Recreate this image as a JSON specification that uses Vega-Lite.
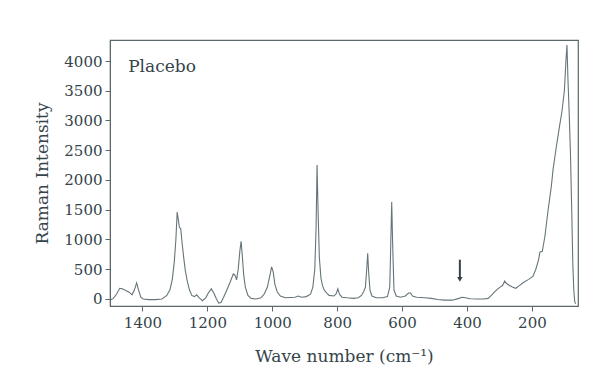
{
  "$schema": "https://vega.github.io/schema/vega-lite/v6.json",
  "autosize": {"type": "none"},
  "width": 468,
  "height": 266,
  "padding": {"left": 110, "top": 40, "right": 19, "bottom": 81},
  "background": "#ffffff",
  "config": {
    "font": "DejaVu Serif",
    "view": {"stroke": "#5a686c", "strokeWidth": 1.2},
    "axis": {
      "grid": false,
      "domainColor": "#5a686c",
      "tickColor": "#5a686c",
      "labelColor": "#34444a",
      "titleColor": "#34444a",
      "labelFont": "DejaVu Serif",
      "titleFont": "DejaVu Serif",
      "labelFontSize": 15,
      "titleFontSize": 17,
      "titleFontWeight": "normal",
      "tickSize": 5
    }
  },
  "datasets": {
    "spectrum": [
      {"wn": 1500, "I": -20}, {"wn": 1490, "I": 10}, {"wn": 1480, "I": 80}, {"wn": 1470, "I": 180},
      {"wn": 1462, "I": 170}, {"wn": 1450, "I": 140}, {"wn": 1440, "I": 110}, {"wn": 1432, "I": 70},
      {"wn": 1425, "I": 150}, {"wn": 1418, "I": 270}, {"wn": 1412, "I": 150}, {"wn": 1405, "I": 30},
      {"wn": 1398, "I": 0}, {"wn": 1380, "I": -10}, {"wn": 1360, "I": -10}, {"wn": 1340, "I": 0},
      {"wn": 1325, "I": 60}, {"wn": 1315, "I": 160}, {"wn": 1308, "I": 330}, {"wn": 1302, "I": 620},
      {"wn": 1297, "I": 1000}, {"wn": 1293, "I": 1460}, {"wn": 1290, "I": 1350}, {"wn": 1286, "I": 1200},
      {"wn": 1282, "I": 1180}, {"wn": 1278, "I": 950}, {"wn": 1273, "I": 700}, {"wn": 1268, "I": 480},
      {"wn": 1262, "I": 300}, {"wn": 1255, "I": 150}, {"wn": 1248, "I": 60}, {"wn": 1240, "I": 40},
      {"wn": 1233, "I": 70}, {"wn": 1225, "I": 20}, {"wn": 1215, "I": -30}, {"wn": 1205, "I": 20},
      {"wn": 1197, "I": 100}, {"wn": 1188, "I": 170}, {"wn": 1180, "I": 100}, {"wn": 1172, "I": 0},
      {"wn": 1165, "I": -70}, {"wn": 1158, "I": -60}, {"wn": 1150, "I": 30}, {"wn": 1140, "I": 150},
      {"wn": 1130, "I": 280}, {"wn": 1120, "I": 420}, {"wn": 1115, "I": 400}, {"wn": 1110, "I": 320},
      {"wn": 1105, "I": 500}, {"wn": 1100, "I": 800}, {"wn": 1096, "I": 970}, {"wn": 1092, "I": 700},
      {"wn": 1088, "I": 400}, {"wn": 1083, "I": 200}, {"wn": 1075, "I": 60}, {"wn": 1065, "I": 10},
      {"wn": 1050, "I": 0}, {"wn": 1035, "I": 20}, {"wn": 1025, "I": 80}, {"wn": 1015, "I": 200},
      {"wn": 1008, "I": 380}, {"wn": 1002, "I": 540}, {"wn": 997, "I": 450}, {"wn": 992, "I": 250},
      {"wn": 985, "I": 120}, {"wn": 975, "I": 50}, {"wn": 960, "I": 20}, {"wn": 945, "I": 25},
      {"wn": 930, "I": 30}, {"wn": 920, "I": 50}, {"wn": 910, "I": 30}, {"wn": 895, "I": 40},
      {"wn": 882, "I": 80}, {"wn": 875, "I": 200}, {"wn": 869, "I": 500}, {"wn": 865, "I": 1200},
      {"wn": 862, "I": 2250}, {"wn": 859, "I": 1500}, {"wn": 855, "I": 700}, {"wn": 850, "I": 350},
      {"wn": 845, "I": 220}, {"wn": 840, "I": 150}, {"wn": 832, "I": 100}, {"wn": 825, "I": 60},
      {"wn": 810, "I": 50}, {"wn": 803, "I": 90}, {"wn": 798, "I": 170}, {"wn": 793, "I": 80},
      {"wn": 785, "I": 30}, {"wn": 770, "I": 20}, {"wn": 750, "I": 10}, {"wn": 735, "I": 20},
      {"wn": 725, "I": 60}, {"wn": 718, "I": 130}, {"wn": 713, "I": 200}, {"wn": 709, "I": 500},
      {"wn": 706, "I": 770}, {"wn": 703, "I": 450}, {"wn": 699, "I": 150}, {"wn": 693, "I": 50},
      {"wn": 680, "I": 20}, {"wn": 660, "I": 20}, {"wn": 645, "I": 40}, {"wn": 638, "I": 200},
      {"wn": 635, "I": 900}, {"wn": 632, "I": 1630}, {"wn": 629, "I": 900}, {"wn": 625, "I": 150},
      {"wn": 618, "I": 50}, {"wn": 605, "I": 30}, {"wn": 590, "I": 50}, {"wn": 580, "I": 100},
      {"wn": 574, "I": 100}, {"wn": 568, "I": 50}, {"wn": 555, "I": 30}, {"wn": 530, "I": 20},
      {"wn": 510, "I": 10}, {"wn": 490, "I": -10}, {"wn": 470, "I": -20}, {"wn": 445, "I": -20},
      {"wn": 425, "I": 10}, {"wn": 415, "I": 30}, {"wn": 405, "I": 20}, {"wn": 390, "I": 5},
      {"wn": 370, "I": 0}, {"wn": 350, "I": 0}, {"wn": 335, "I": 10}, {"wn": 325, "I": 60},
      {"wn": 315, "I": 120}, {"wn": 305, "I": 170}, {"wn": 298, "I": 200}, {"wn": 290, "I": 230},
      {"wn": 284, "I": 300}, {"wn": 278, "I": 260}, {"wn": 270, "I": 230}, {"wn": 260, "I": 200},
      {"wn": 250, "I": 180}, {"wn": 240, "I": 220}, {"wn": 225, "I": 280}, {"wn": 210, "I": 330},
      {"wn": 197, "I": 380}, {"wn": 188, "I": 500}, {"wn": 180, "I": 650}, {"wn": 175, "I": 790},
      {"wn": 168, "I": 800}, {"wn": 160, "I": 1050}, {"wn": 150, "I": 1500}, {"wn": 140, "I": 1900},
      {"wn": 135, "I": 2170}, {"wn": 125, "I": 2550}, {"wn": 115, "I": 2900}, {"wn": 108, "I": 3130},
      {"wn": 100, "I": 3500}, {"wn": 95, "I": 4020}, {"wn": 92, "I": 4270}, {"wn": 89, "I": 3700},
      {"wn": 85, "I": 3100}, {"wn": 81, "I": 2400}, {"wn": 77, "I": 1400}, {"wn": 74, "I": 600},
      {"wn": 71, "I": 150}, {"wn": 68, "I": -50}, {"wn": 65, "I": -80}
    ],
    "labels": [{"wn": 1444, "I": 3900, "text": "Placebo"}],
    "arrow": [{"wn": 422, "I": 660, "tip": 330}],
    "arrowtip": [{"wn": 422, "I": 330}]
  },
  "encoding": {
    "x": {
      "field": "wn", "type": "quantitative",
      "scale": {"domain": [1500, 58], "nice": false, "zero": false},
      "axis": {"values": [1400, 1200, 1000, 800, 600, 400, 200], "format": "d", "labelOverlap": false, "title": "Wave number (cm⁻¹)", "labelPadding": 4, "titlePadding": 18}
    },
    "y": {
      "field": "I", "type": "quantitative",
      "scale": {"domain": [-118, 4353], "nice": false, "zero": false},
      "axis": {"values": [0, 500, 1000, 1500, 2000, 2500, 3000, 3500, 4000], "format": "d", "labelOverlap": false, "title": "Raman Intensity", "labelPadding": 3, "titlePadding": 12}
    }
  },
  "layer": [
    {
      "data": {"name": "spectrum"},
      "mark": {"type": "line", "color": "#66757a", "strokeWidth": 1.1, "clip": true}
    },
    {
      "data": {"name": "labels"},
      "mark": {"type": "text", "align": "left", "baseline": "middle", "fontSize": 17, "color": "#34444a", "font": "DejaVu Serif"},
      "encoding": {
        "text": {"field": "text"}
      }
    },
    {
      "data": {"name": "arrow"},
      "mark": {"type": "rule", "color": "#34444a", "strokeWidth": 2},
      "encoding": {
        "y2": {"field": "tip"}
      }
    },
    {
      "data": {"name": "arrowtip"},
      "mark": {"type": "point", "shape": "triangle-down", "filled": true, "color": "#34444a", "size": 30, "opacity": 1}
    }
  ]
}
